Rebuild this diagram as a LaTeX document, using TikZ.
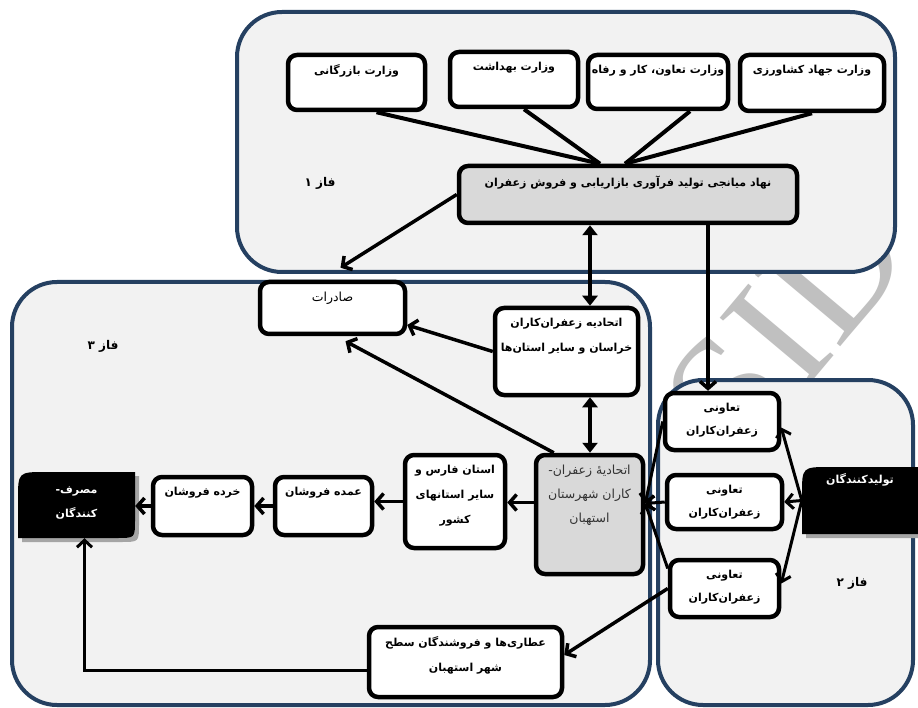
\documentclass[tikz,border=0pt]{standalone}
\usepackage{fontspec}
\usetikzlibrary{arrows.meta}
\TeXXeTstate=1
\newfontfamily\arabicfont[Script=Arabic]{DejaVu Sans}
\newfontfamily\wmfont{Liberation Serif}
\definecolor{phaseblue}{RGB}{37,64,97}
\definecolor{phasefill}{RGB}{242,242,242}
\definecolor{boxgray}{RGB}{217,217,217}
\definecolor{wmgray}{RGB}{192,192,192}
\definecolor{shadowgray}{RGB}{165,165,165}
\tikzset{
 phase/.style={draw=phaseblue, line width=4pt, fill=phasefill, rounded corners=45pt},
 box/.style={draw=black, line width=4.5pt, fill=white, rounded corners=9pt, inner sep=0pt},
 graybox/.style={box, fill=boxgray},
 txt/.style={anchor=north, align=center, inner sep=0pt, yshift=-12pt, font=\arabicfont\bfseries\fontsize{11}{25}\selectfont},
 tatxt/.style={txt, font=\arabicfont\bfseries\fontsize{11}{23}\selectfont},
 plaintxt/.style={txt, font=\arabicfont\fontsize{12.5}{24}\selectfont},
 wtxt/.style={anchor=north, align=center, inner sep=0pt, text=white, font=\arabicfont\bfseries\fontsize{11}{24}\selectfont},
 conn/.style={line width=4pt},
 arr/.style={line width=3.5pt, -{Straight Barb[length=7pt,width=16pt]}},
 thinarr/.style={line width=3pt, -{Straight Barb[length=7pt,width=15pt]}},
 dbl/.style={line width=4pt, {Triangle[length=10pt,width=15pt]}-{Triangle[length=10pt,width=15pt]}},
 phlabel/.style={font=\arabicfont\bfseries\fontsize{12}{14}\selectfont, inner sep=0pt}
}
\begin{document}
\begin{tikzpicture}[x=1pt,y=-1pt]
\useasboundingbox (0,0) rectangle (918,708);
\fill[white] (0,0) rectangle (918,708);
% watermark
\node[text=wmgray, font=\wmfont\fontsize{170}{170}\selectfont, rotate=50, inner sep=0pt] (wm) at (786,326) {SID};
% phase frames
\draw[phase] (237,12) rectangle (895,272);
\draw[phase] (12,282) rectangle (650,705);
\draw[phase] (658,380) rectangle (913,705);
\node[phlabel] (ph1) at (320,183) {\beginR فاز ۱\endR};
\node[phlabel] (ph3) at (103,346) {\beginR فاز ۳\endR};
\node[phlabel] (ph2) at (852,583) {\beginR فاز ۲\endR};
% ministries
\node[box, minimum width=137pt, minimum height=55pt, label={[txt]north:{\beginR وزارت بازرگانی\endR}}] (m1) at (356.5,82.5) {};
\node[box, minimum width=128pt, minimum height=55pt, label={[txt]north:{\beginR وزارت بهداشت\endR}}] (m2) at (514,79.5) {};
\node[box, minimum width=140pt, minimum height=54pt, label={[txt]north:{\beginR وزارت تعاون، کار و رفاه\endR}}] (m3) at (658,82) {};
\node[box, minimum width=144pt, minimum height=56pt, label={[txt]north:{\beginR وزارت جهاد کشاورزی\endR}}] (m4) at (812,83) {};
% central body
\node[graybox, minimum width=338pt, minimum height=57pt, label={[txt]north:{\beginR نهاد میانجی تولید فرآوری بازاریابی و فروش زعفران\endR}}] (c) at (628,194.5) {};
\coordinate (xa) at (600,0);
\coordinate (xb) at (625,0);
\draw[conn] ([xshift=20pt]m1.south) -- (c.north -| xa);
\draw[conn] ([xshift=10pt]m2.south) -- (c.north -| xa);
\draw[conn] ([xshift=32pt]m3.south) -- (c.north -| xb);
\draw[conn] (m4.south) -- (c.north -| xb);
% phase 3 nodes
\node[box, minimum width=145pt, minimum height=52pt, label={[plaintxt]north:{\beginR صادرات\endR}}] (sad) at (332.5,308) {};
\node[box, minimum width=143pt, minimum height=87pt, label={[txt]north:{\beginR اتحادیه زعفران^^^^200cکاران\endR\\\beginR خراسان و سایر استان^^^^200cها\endR}}] (kh) at (566.5,351.5) {};
\node[graybox, minimum width=107pt, minimum height=119pt, label={[plaintxt, text=black!80]north:{\beginR اتحادیه^^^^0654 زعفران-\endR\\\beginR کاران شهرستان\endR\\\beginR استهبان\endR}}] (est) at (589.5,514.5) {};
\node[box, minimum width=100pt, minimum height=93pt, label={[txt]north:{\beginR استان فارس و\endR\\\beginR سایر استانهای\endR\\\beginR کشور\endR}}] (fars) at (455,501.5) {};
\node[box, minimum width=97pt, minimum height=58pt, label={[txt]north:{\beginR عمده فروشان\endR}}] (omde) at (323.5,506) {};
\node[box, minimum width=99pt, minimum height=58pt, label={[txt]north:{\beginR خرده فروشان\endR}}] (khorde) at (202.5,506) {};
\node[box, minimum width=193pt, minimum height=70pt, label={[txt]north:{\beginR عطاری^^^^200cها و فروشندگان سطح\endR\\\beginR شهر استهبان\endR}}] (attar) at (465.5,662) {};
% consumers (black shape)
\fill[shadowgray] (22,542) -- (22,504) .. controls (22,476) .. (50,476) -- (139,476) -- (139,524) .. controls (139,542) .. (121,542) -- cycle;
\fill[black] (18,538) -- (18,500) .. controls (18,472) .. (46,472) -- (135,472) -- (135,520) .. controls (135,538) .. (117,538) -- cycle;
\node[minimum width=117pt, minimum height=66pt, inner sep=0pt, label={[wtxt, yshift=-15pt]north:{\beginR مصرف-\endR\\\beginR کنندگان\endR}}] (mas) at (76.5,505) {};
% phase 2 nodes
\node[box, minimum width=114pt, minimum height=57pt, label={[tatxt]north:{\beginR تعاونی\endR\\\beginR زعفران^^^^200cکاران\endR}}] (t1) at (722,421.5) {};
\node[box, minimum width=115pt, minimum height=54pt, label={[tatxt]north:{\beginR تعاونی\endR\\\beginR زعفران^^^^200cکاران\endR}}] (t2) at (724.5,502) {};
\node[box, minimum width=109pt, minimum height=57pt, label={[tatxt]north:{\beginR تعاونی\endR\\\beginR زعفران^^^^200cکاران\endR}}] (t3) at (724.5,588.5) {};
% producers (black shape)
\fill[shadowgray] (806,538) -- (806,499) .. controls (806,471) .. (834,471) -- (925,471) -- (925,538) -- cycle;
\fill[black] (802,534) -- (802,495) .. controls (802,467) .. (830,467) -- (925,467) -- (925,534) -- cycle;
\node[minimum width=116pt, minimum height=67pt, inner sep=0pt, label={[wtxt, yshift=-6pt]north:{\beginR تولیدکنندگان\endR}}] (tol) at (860,500.5) {};
% connectors
\coordinate (xc) at (590,0);
\coordinate (xd) at (708,0);
\draw[dbl] (c.south -| xc) -- (kh.north -| xc);
\draw[dbl] (kh.south -| xc) -- (est.north -| xc);
\draw[arr] (c.west) -- ([xshift=8pt,yshift=12pt]sad.north);
\draw[arr] (kh.west) -- ([yshift=-17pt]sad.east);
\draw[arr] ([xshift=20pt]est.north west) -- ([xshift=13pt,yshift=-5pt]sad.south);
\draw[arr] (c.south -| xd) -- (t1.north -| xd);
\draw[arr] ([yshift=12pt]est.west) -- ([yshift=12pt]est.west -| fars.east);
\draw[arr] (fars.west) -- (fars.west -| omde.east);
\draw[arr] (omde.west) -- (khorde.east);
\draw[arr] (khorde.west) -- (khorde.west -| mas.east);
\draw[thinarr] ([yshift=-8pt]attar.west) -| ([xshift=8pt]mas.south);
\draw[arr] (t3.west) -- ([yshift=7pt]attar.east);
\draw[thinarr] (tol.west) -- ([yshift=-6pt]t1.east);
\draw[thinarr] (tol.west) -- (t2.east);
\draw[thinarr] (tol.west) -- ([yshift=5pt]t3.east);
\draw[thinarr] (t1.west) -- ([yshift=11pt]est.east);
\draw[thinarr] (t2.west) -- ([yshift=11pt]est.east);
\draw[thinarr] ([yshift=20pt]t3.west) -- ([yshift=11pt]est.east);
\end{tikzpicture}
\end{document}
